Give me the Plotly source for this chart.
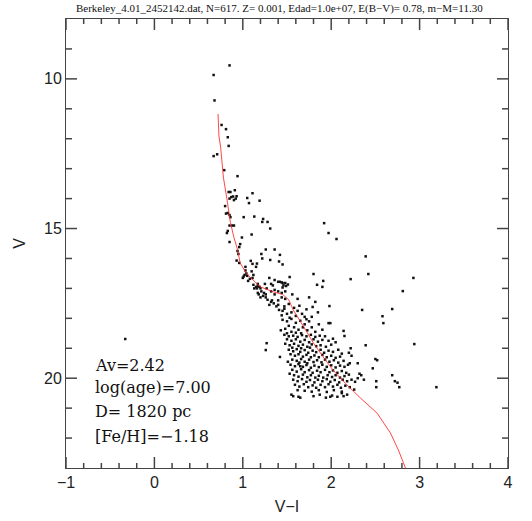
import plotly.graph_objects as go

# Isochrone (V-I, V)
iso_vi = [0.72, 0.73, 0.75, 0.76, 0.78, 0.82, 0.86, 0.90, 0.94, 0.97, 1.03, 1.09, 1.20, 1.35, 1.45,
          1.52, 1.57, 1.69, 1.80, 1.91, 2.02, 2.16, 2.33, 2.52, 2.67, 2.76, 2.84]
iso_v = [11.17, 11.9, 12.3, 12.7, 13.28, 14.0, 14.8, 15.3, 15.7, 16.15, 16.45, 16.65, 16.95, 17.12, 17.2,
         17.38, 17.72, 18.29, 18.83, 19.29, 19.73, 20.17, 20.66, 21.17, 21.83, 22.4, 23.0]

# Stars: upper main sequence (V-I, V)
stars_upper = [
    (0.85, 9.55), (0.67, 9.87), (0.68, 10.72), (0.76, 11.54), (0.81, 11.68), (0.83, 11.95), (0.84, 12.24),
    (0.67, 12.58), (0.71, 12.52), (0.79, 13.05), (0.94, 13.25),
    (0.84, 13.78), (0.86, 13.78), (0.87, 13.95), (0.89, 13.93), (0.91, 13.72), (0.93, 13.92), (0.92, 14.0),
    (0.90, 14.05), (0.85, 14.0), (1.11, 13.82), (1.05, 13.98), (1.07, 14.15), (1.19, 14.07),
    (0.80, 14.25), (0.81, 14.5), (0.83, 14.48), (0.85, 14.55), (0.86, 14.62),
    (1.01, 14.62), (1.13, 14.6), (1.23, 14.68), (1.22, 14.78), (1.28, 14.78), (1.31, 15.0),
    (0.85, 14.9), (0.88, 14.9), (0.90, 14.9), (0.83, 15.08), (0.82, 15.15), (1.10, 15.2),
    (0.85, 15.45), (0.99, 15.3), (0.97, 15.52), (0.96, 15.62), (0.94, 15.75), (0.95, 15.85),
    (0.93, 16.07), (0.96, 16.15),
    (1.03, 16.28), (1.03, 16.4), (1.04, 16.5), (1.01, 16.6), (1.02, 16.55), (1.00, 16.65),
    (1.09, 16.08), (1.11, 16.18), (1.15, 16.28), (1.16, 16.17), (1.21, 15.85), (1.26, 15.7), (1.22, 16.0),
    (1.31, 16.05), (1.36, 15.7), (1.42, 15.88), (1.41, 16.1), (1.45, 16.2),
    (1.10, 16.43), (1.12, 16.55), (1.11, 16.65), (1.05, 16.58), (1.08, 16.68),
    (1.30, 16.65), (1.36, 16.72), (1.42, 16.78), (1.45, 16.82), (1.48, 16.82), (1.51, 16.87), (1.53, 16.62),
    (1.49, 16.92), (1.45, 16.97),
    (1.17, 16.85), (1.19, 16.95), (1.20, 17.0), (1.25, 16.85), (1.27, 17.0), (1.24, 17.15), (1.17, 17.15),
    (1.20, 17.3), (1.26, 17.3), (1.32, 17.1), (1.36, 17.2), (1.40, 17.1), (1.44, 17.3), (1.48, 17.35),
    (1.40, 17.4), (1.33, 17.4), (1.15, 16.95), (1.13, 17.0),
    (1.06, 16.75), (1.12, 16.88), (1.17, 16.93), (1.16, 17.0), (1.21, 17.1), (1.18, 17.2), (1.23, 17.25),
    (1.26, 17.2), (1.28, 17.38), (1.32, 17.45), (1.30, 17.55), (1.35, 17.5), (1.38, 17.6), (1.41, 17.72),
    (1.45, 17.75), (1.32, 16.85), (1.34, 16.9), (1.40, 16.78), (1.44, 16.8), (1.46, 16.9), (1.36, 17.05),
    (1.44, 17.15), (1.48, 17.1), (1.75, 17.3), (1.82, 17.45), (1.62, 17.35), (1.56, 17.2),
]

# Stars: field / red outliers (V-I, V)
stars_field = [
    (1.80, 16.52), (1.92, 14.82), (1.97, 15.15), (2.06, 15.35), (2.39, 15.93), (2.42, 16.52), (2.22, 16.69),
    (2.81, 17.09), (2.93, 16.65), (1.91, 16.75), (1.90, 16.95), (1.84, 16.88),
    (1.79, 17.62), (1.98, 17.59), (2.35, 17.72), (2.58, 17.93), (2.59, 18.16), (2.69, 17.69), (1.97, 18.16),
    (1.99, 18.16), (2.14, 18.42), (2.15, 18.59), (2.39, 18.9), (2.50, 19.36), (2.52, 19.4), (2.94, 18.86),
    (1.27, 18.83), (1.26, 19.06), (1.42, 19.29),
    (2.22, 19.0), (2.20, 19.15), (2.23, 19.25), (2.21, 19.5), (2.30, 19.5), (2.47, 19.67), (2.32, 19.85),
    (2.34, 19.9), (2.30, 20.0), (2.37, 20.05), (2.51, 20.1), (2.51, 20.3), (2.69, 19.9), (2.72, 20.1),
    (2.75, 20.15), (2.77, 20.3), (3.19, 20.3), (-0.33, 18.69),
]

# Stars: dense lower main-sequence cloud (V-I, V)
stars_cloud = [
    (1.40, 17.55), (1.47, 17.6), (1.52, 17.52), (1.58, 17.65), (1.55, 17.8), (1.62, 17.75), (1.50, 17.85),
    (1.44, 17.9), (1.60, 17.92), (1.67, 17.85), (1.72, 17.7), (1.70, 17.95), (1.53, 17.98), (1.47, 17.68),
    (1.64, 17.58), (1.85, 17.8), (1.78, 17.95),
    (1.45, 18.05), (1.50, 18.1), (1.55, 18.02), (1.60, 18.15), (1.65, 18.08), (1.70, 18.2), (1.75, 18.1),
    (1.52, 18.25), (1.58, 18.3), (1.48, 18.35), (1.63, 18.38), (1.68, 18.3), (1.73, 18.4), (1.78, 18.3),
    (1.82, 18.45), (1.55, 18.45), (1.60, 18.48), (1.50, 18.5), (1.66, 18.5), (1.86, 18.2), (1.43, 18.4),
    (1.90, 18.38), (1.72, 18.03),
    (1.47, 18.55), (1.52, 18.6), (1.57, 18.58), (1.62, 18.62), (1.67, 18.56), (1.72, 18.6), (1.77, 18.55),
    (1.82, 18.62), (1.87, 18.58), (1.93, 18.6), (1.50, 18.7), (1.55, 18.75), (1.60, 18.7), (1.65, 18.78),
    (1.70, 18.72), (1.75, 18.8), (1.80, 18.7), (1.85, 18.78), (1.90, 18.72), (1.97, 18.75), (2.02, 18.68),
    (1.48, 18.85), (1.53, 18.9), (1.58, 18.85), (1.63, 18.92), (1.68, 18.88), (1.73, 18.95), (1.78, 18.87),
    (1.83, 18.93), (1.88, 18.9), (1.94, 18.95), (2.00, 18.88), (2.05, 18.8), (1.56, 18.98), (1.66, 19.0),
    (1.76, 18.98),
    (1.52, 19.05), (1.57, 19.1), (1.61, 19.03), (1.65, 19.12), (1.70, 19.06), (1.74, 19.15), (1.79, 19.08),
    (1.83, 19.13), (1.88, 19.05), (1.92, 19.15), (1.97, 19.08), (2.02, 19.12), (2.08, 19.05), (2.12, 19.18),
    (1.54, 19.2), (1.59, 19.25), (1.63, 19.2), (1.68, 19.28), (1.72, 19.22), (1.77, 19.3), (1.81, 19.24),
    (1.86, 19.3), (1.90, 19.22), (1.95, 19.3), (2.00, 19.25), (2.05, 19.32), (2.10, 19.28), (1.56, 19.38),
    (1.61, 19.42), (1.66, 19.36), (1.70, 19.45), (1.75, 19.38), (1.80, 19.46), (1.84, 19.4), (1.89, 19.47),
    (1.93, 19.38), (1.98, 19.45), (2.03, 19.4), (2.08, 19.48), (2.14, 19.42), (1.51, 19.45), (1.64, 19.48),
    (1.73, 19.5),
    (1.54, 19.55), (1.59, 19.6), (1.63, 19.53), (1.68, 19.62), (1.72, 19.56), (1.77, 19.65), (1.81, 19.58),
    (1.86, 19.63), (1.90, 19.55), (1.95, 19.62), (2.00, 19.57), (2.05, 19.64), (2.10, 19.58), (2.15, 19.62),
    (2.19, 19.55), (1.56, 19.72), (1.61, 19.78), (1.66, 19.7), (1.70, 19.8), (1.75, 19.73), (1.79, 19.82),
    (1.84, 19.75), (1.88, 19.8), (1.93, 19.72), (1.98, 19.8), (2.02, 19.74), (2.07, 19.82), (2.12, 19.76),
    (2.17, 19.82), (1.58, 19.9), (1.63, 19.95), (1.68, 19.88), (1.73, 19.97), (1.77, 19.9), (1.82, 19.98),
    (1.86, 19.92), (1.91, 19.98), (1.96, 19.9), (2.01, 19.96), (2.05, 19.9), (2.10, 19.98), (2.15, 19.93),
    (2.20, 19.88), (1.53, 19.85), (1.65, 19.6),
    (1.57, 20.05), (1.62, 20.1), (1.67, 20.03), (1.72, 20.12), (1.76, 20.06), (1.81, 20.14), (1.85, 20.05),
    (1.90, 20.1), (1.95, 20.03), (1.99, 20.12), (2.04, 20.06), (2.09, 20.14), (2.13, 20.05), (2.18, 20.1),
    (2.23, 20.05), (2.27, 20.12), (1.59, 20.22), (1.64, 20.28), (1.69, 20.2), (1.74, 20.3), (1.79, 20.24),
    (1.83, 20.32), (1.88, 20.22), (1.93, 20.3), (1.97, 20.2), (2.02, 20.28), (2.07, 20.22), (2.11, 20.32),
    (2.16, 20.25), (2.21, 20.3), (1.62, 20.4), (1.70, 20.42), (1.78, 20.45), (1.86, 20.4), (1.95, 20.46),
    (2.03, 20.4), (2.12, 20.45), (2.26, 20.38),
    (1.55, 20.55), (1.63, 20.62), (1.80, 20.6), (1.87, 20.55), (1.94, 20.65), (2.01, 20.58), (2.07, 20.62),
    (2.12, 20.5), (1.57, 20.6), (1.65, 20.65), (1.99, 20.62), (2.14, 20.6), (2.18, 20.55),
]

title_text = "Berkeley_4.01_2452142.dat, N=617. Z= 0.001, Edad=1.0e+07, E(B\u2212V)= 0.78, m\u2212M=11.30"
info_lines = ["Av=2.42", "log(age)=7.00", "D= 1820 pc", "[Fe/H]=\u22121.18"]
info_v = [19.56, 20.3, 21.1, 21.95]
info_vi = -0.70

# Axis tick positions
x_major = [-1, 0, 1, 2, 3, 4]
x_minor = [-0.8, -0.6, -0.4, -0.2, 0.2, 0.4, 0.6, 0.8, 1.2, 1.4, 1.6, 1.8,
           2.2, 2.4, 2.6, 2.8, 3.2, 3.4, 3.6, 3.8]
y_major = [10, 15, 20]
y_minor = [9, 11, 12, 13, 14, 16, 17, 18, 19, 21, 22]

W, H = 532, 521
M = dict(l=66, r=24, t=19, b=53)
plot_w = W - M["l"] - M["r"]
plot_h = H - M["t"] - M["b"]

all_stars = stars_upper + stars_field + stars_cloud
sx = [p[0] for p in all_stars]
sy = [p[1] for p in all_stars]

fig = go.Figure()
fig.add_trace(go.Scatter(x=sx, y=sy, mode="markers",
                         marker=dict(symbol="square", size=2.5, color="#111", line=dict(width=0)),
                         hoverinfo="skip"))
fig.add_trace(go.Scatter(x=iso_vi, y=iso_v, mode="lines",
                         line=dict(color="rgba(255,40,40,0.85)", width=1), hoverinfo="skip"))

for t, v in zip(info_lines, info_v):
    fig.add_annotation(x=info_vi, y=v, text=t, showarrow=False, xanchor="left", yanchor="middle",
                       font=dict(family="DejaVu Serif", size=16, color="#111"))

tick_col = "#444"
for vals, ln in ((x_major, 11), (x_minor, 5)):
    f = ln / plot_h
    for v in vals:
        fig.add_shape(type="line", xref="x", yref="paper", x0=v, x1=v, y0=0, y1=f,
                      line=dict(color=tick_col, width=1.5), layer="above")
        fig.add_shape(type="line", xref="x", yref="paper", x0=v, x1=v, y0=1, y1=1 - f,
                      line=dict(color=tick_col, width=1.5), layer="above")
for vals, ln in ((y_major, 11), (y_minor, 6)):
    f = ln / plot_w
    for v in vals:
        fig.add_shape(type="line", xref="paper", yref="y", x0=0, x1=f, y0=v, y1=v,
                      line=dict(color=tick_col, width=1.5), layer="above")
        fig.add_shape(type="line", xref="paper", yref="y", x0=1, x1=1 - f, y0=v, y1=v,
                      line=dict(color=tick_col, width=1.5), layer="above")

tick_font = dict(family="Liberation Sans", size=16, color="#222")

fig.update_layout(
    width=W, height=H,
    margin=M,
    plot_bgcolor="white",
    showlegend=False,
    title=dict(text=title_text, x=0.525, xanchor="center", y=0.985, yanchor="middle",
               font=dict(family="Liberation Serif", size=11, color="#111")),
    xaxis=dict(range=[-1, 4], tickmode="array", tickvals=x_major, showline=True, linecolor="#444",
               mirror=True, ticks="", showgrid=False, zeroline=False, tickfont=tick_font,
               automargin=False,
               title=dict(text="V\u2212I", font=tick_font, standoff=10)),
    yaxis=dict(range=[23, 8], tickmode="array", tickvals=y_major, showline=True, linecolor="#444",
               mirror=True, ticks="", showgrid=False, zeroline=False, tickfont=tick_font,
               automargin=False,
               title=dict(text="V", font=tick_font, standoff=14)),
)

fig.write_html("out.html")
